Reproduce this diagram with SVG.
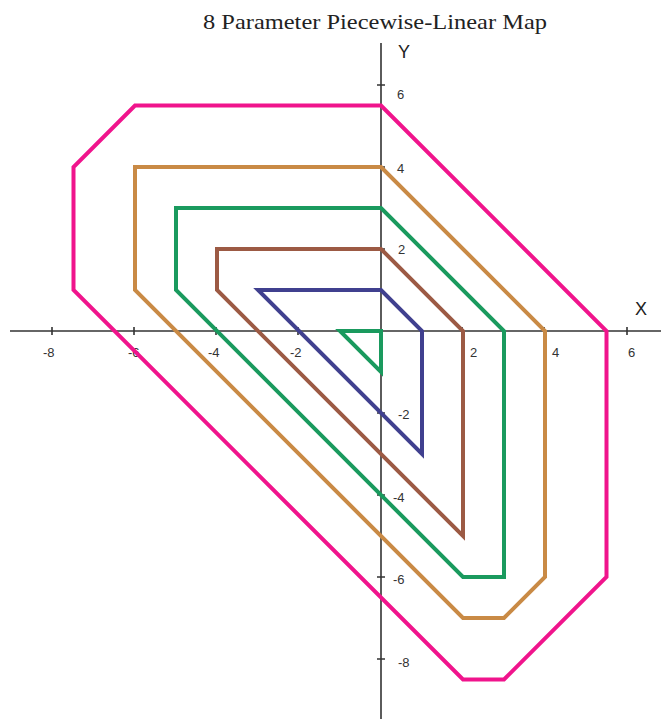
<svg xmlns="http://www.w3.org/2000/svg" width="661" height="719" viewBox="0 0 661 719">
<style>
.title{font-family:"Liberation Serif","Times New Roman",serif;font-size:22px;fill:#222}
.ax{stroke:#333;stroke-width:1.6;fill:none}
.lbl{font-family:"Liberation Sans",Arial,sans-serif;font-size:13px;fill:#333}
.axl{font-family:"Liberation Sans",Arial,sans-serif;font-size:18px;fill:#222}
.c{fill:none;stroke-width:4;stroke-linejoin:miter}
</style>
<rect width="661" height="719" fill="#fff"/>
<text class="title" x="203" y="29" textLength="344" lengthAdjust="spacingAndGlyphs">8 Parameter Piecewise-Linear Map</text>
<g id="axes">
<line class="ax" x1="10" y1="331" x2="661" y2="331"/>
<line class="ax" x1="381" y1="43" x2="381" y2="719"/>
<path class="ax" d="M52 327v8M134 327v8M216 327v8M298 327v8M462 327v8M544 327v8M627 327v8M377 85h8M377 167h8M377 249h8M377 413h8M377 495h8M377 577h8M377 659h8"/>
<text class="lbl" x="43" y="357">-8</text>
<text class="lbl" x="128" y="357">-6</text>
<text class="lbl" x="208" y="357">-4</text>
<text class="lbl" x="290" y="357">-2</text>
<text class="lbl" x="470" y="357">2</text>
<text class="lbl" x="552" y="357">4</text>
<text class="lbl" x="628" y="357">6</text>
<text class="lbl" x="397" y="99">6</text>
<text class="lbl" x="397" y="173">4</text>
<text class="lbl" x="398" y="254">2</text>
<text class="lbl" x="398" y="419">-2</text>
<text class="lbl" x="393" y="502">-4</text>
<text class="lbl" x="393" y="584">-6</text>
<text class="lbl" x="398" y="667">-8</text>
<text class="axl" x="398" y="58">Y</text>
<text class="axl" x="635" y="315">X</text>
</g>
<g id="connectors">
<polygon id="pink" class="c" stroke="#f0148c" points="135,105.5 381,105.5 606.5,331 606.5,577 504,679.5 463,679.5 73.5,290 73.5,167"/>
<polygon id="orange" class="c" stroke="#c98a45" points="135,167 381,167 545,331 545,577 504,618 463,618 135,290"/>
<polygon id="green" class="c" stroke="#1a9a5e" points="176,208 381,208 504,331 504,577 463,577 176,290"/>
<polygon id="brown" class="c" stroke="#9c5a44" points="217,249 381,249 463,331 463,536 217,290"/>
<polygon id="blue" class="c" stroke="#40408f" points="258,290 381,290 422,331 422,454"/>
<polygon id="green-small" class="c" stroke="#1a9a5e" points="340,331 381,331 381,372"/>
</g>
</svg>
